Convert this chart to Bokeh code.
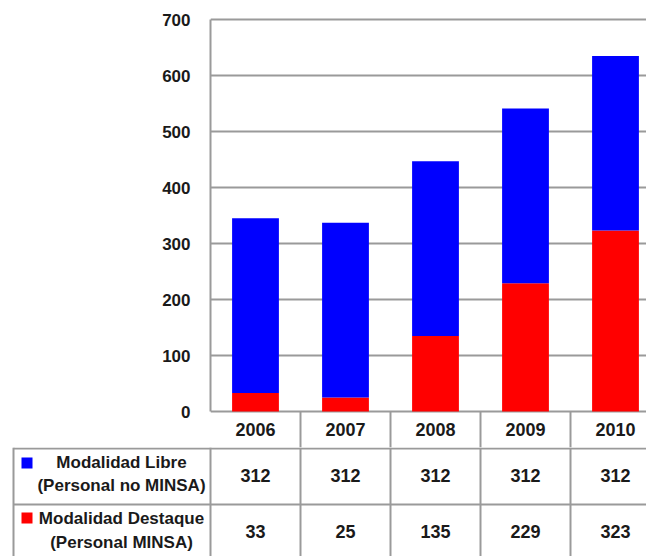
from bokeh.plotting import figure
from bokeh.models import Range1d, SingleIntervalTicker, ColumnDataSource
from bokeh.core.properties import value
from bokeh.embed import file_html
from bokeh.resources import INLINE

years = ["2006", "2007", "2008", "2009", "2010"]
libre = [312, 312, 312, 312, 312]
destaque = [33, 25, 135, 229, 323]
series_names = ["Modalidad Libre", "Modalidad Destaque"]
series_sub = ["(Personal no MINSA)", "(Personal MINSA)"]
series_colors = ["#0000FF", "#FF0000"]
y_ticks_interval = 100
y_max = 700

FONT = "Liberation Sans"
GRAY = "#9a9a9a"
TXT = "#1a1a1a"
W = 646
LEFT = 210          # pixel position of the y axis
CAT_W = 90          # pixel width of one category
TOP_H = 447         # chart + header row of the table
BOT_H = 556 - TOP_H
PX_PER_UNIT = 392 / y_max
HEADER_H = 36

def px(xpix):
    return (xpix - LEFT) / CAT_W

x_end = (W - LEFT) / CAT_W
xs = [i + 0.5 for i in range(len(years))]
y_lo = -HEADER_H / PX_PER_UNIT
y_hi = y_max + 2 / PX_PER_UNIT

# ---------------- chart (+ header row) ----------------
p1 = figure(width=W, height=TOP_H, output_backend="svg", toolbar_location=None,
            x_range=Range1d(0, x_end), y_range=Range1d(y_lo, y_hi),
            min_border_left=LEFT, min_border_top=17, min_border_bottom=0,
            min_border_right=0)
p1.outline_line_color = None
p1.background_fill_color = "white"
p1.border_fill_color = "white"

src = ColumnDataSource(dict(x=xs, libre=libre, destaque=destaque))
p1.vbar_stack(["destaque", "libre"], x="x", width=0.52, source=src,
              color=[series_colors[1], series_colors[0]], line_color=None)

p1.xaxis.visible = False
p1.xgrid.visible = False
p1.yaxis.ticker = SingleIntervalTicker(interval=y_ticks_interval)
p1.yaxis.bounds = (0, y_max)
p1.yaxis.axis_line_color = GRAY
p1.yaxis.axis_line_width = 2
p1.yaxis.major_tick_in = 0
p1.yaxis.major_tick_out = 0
p1.yaxis.minor_tick_line_color = None
p1.yaxis.major_label_standoff = 16
p1.yaxis.major_label_text_font = FONT
p1.yaxis.major_label_text_font_style = "bold"
p1.yaxis.major_label_text_font_size = "17px"
p1.yaxis.major_label_text_color = TXT
p1.ygrid.ticker = SingleIntervalTicker(interval=y_ticks_interval)
p1.ygrid.grid_line_color = GRAY
p1.ygrid.grid_line_width = 2

# header row: vertical separators and years
vx1 = list(range(1, len(years)))
p1.segment(x0=vx1, y0=[0] * len(vx1), x1=vx1, y1=[y_lo] * len(vx1),
           line_color=GRAY, line_width=2)
num_kw = dict(text_font=value(FONT), text_font_style="bold",
              text_font_size="18px", text_color=TXT,
              text_align="center", text_baseline="middle")
p1.text(x=xs, y=[-18 / PX_PER_UNIT] * len(years), text=years, **num_kw)

# ---------------- data rows of the table ----------------
p2 = figure(width=W, height=BOT_H, output_backend="svg", toolbar_location=None,
            x_range=Range1d(px(0), x_end), y_range=Range1d(BOT_H, 0),
            min_border_left=0, min_border_right=0,
            min_border_top=0, min_border_bottom=0)
p2.axis.visible = False
p2.grid.visible = False
p2.outline_line_color = None
p2.background_fill_color = "white"
p2.border_fill_color = "white"

tbl_left = px(13)
row_tops = [1, 57]
p2.segment(x0=[tbl_left] * 2, y0=row_tops, x1=[x_end] * 2, y1=row_tops,
           line_color=GRAY, line_width=2)
vx = list(range(len(years))) + [tbl_left]
p2.segment(x0=vx, y0=[0] * len(vx), x1=vx, y1=[BOT_H] * len(vx),
           line_color=GRAY, line_width=2)

p2.text(x=xs, y=[28] * len(years), text=[str(v) for v in libre], **num_kw)
p2.text(x=xs, y=[84] * len(years), text=[str(v) for v in destaque], **num_kw)

lab_kw = dict(num_kw)
lab_kw["text_font_size"] = "17px"
lab_x = px(121)
p2.text(x=[lab_x] * 4, y=[15, 38, 71, 95],
        text=[series_names[0], series_sub[0], series_names[1], series_sub[1]],
        **lab_kw)
p2.rect(x=[px(26.5)] * 2, y=[15.5, 70.5], width=11, height=11,
        width_units="screen", height_units="screen",
        fill_color=series_colors, line_color=None)

open("out.html", "w").write(file_html([p1, p2], INLINE))
